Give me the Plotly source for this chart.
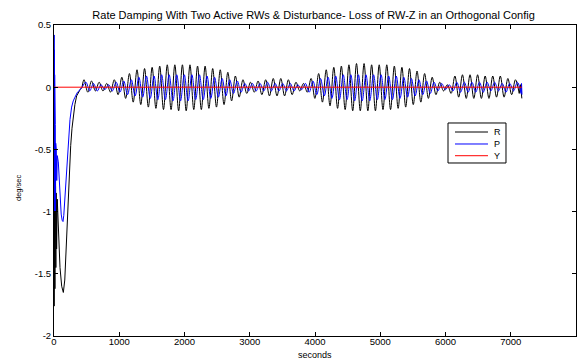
import numpy as np
import plotly.graph_objects as go

# ---- spin-up transient (s, deg/sec) ----
r_t0 = [0, 2, 5, 8, 11, 14, 17, 20, 24, 28, 33, 40, 50, 66, 92, 118, 143, 165, 184,
        202, 220, 238, 256, 276, 297, 320, 347, 375, 400, 430]
r_v0 = [0.0, -1.76, -0.62, -1.72, -0.70, -1.62, -0.75, -1.55, -0.80, -1.45, -0.85, -1.30,
        -0.90, -1.10, -1.45, -1.60, -1.65, -1.55, -1.33, -1.08, -0.80, -0.62, -0.47, -0.33,
        -0.23, -0.14, -0.07, -0.04, -0.02, 0.0]

p_t0 = [0, 2, 4, 6, 8, 10, 12, 14, 17, 20, 23, 26, 30, 35, 42, 50, 66, 80, 92, 110, 125,
        138, 150, 170, 194, 220, 245, 270, 295, 322, 360, 400, 430]
p_v0 = [0.0, 0.42, -0.90, 0.30, -1.00, 0.10, -0.95, -0.10, -0.90, -0.30, -1.00, -0.45,
        -0.85, -0.50, -0.75, -0.55, -0.60, -0.78, -0.92, -1.02, -1.07, -1.08, -1.03, -0.88,
        -0.66, -0.45, -0.26, -0.16, -0.11, -0.08, -0.04, -0.02, 0.0]

# ---- disturbance oscillation: successive peaks / troughs, one every half period ----
half_period = 58
osc_start = 460
r_ext = [0.06, -0.04, 0.05, -0.03, 0.04, -0.03, 0.03, -0.04, 0.06, -0.06,
         0.08, -0.09, 0.11, -0.12, 0.14, -0.14, 0.15, -0.16, 0.16, -0.17,
         0.17, -0.18, 0.18, -0.18, 0.18, -0.19, 0.18, -0.19, 0.18, -0.18,
         0.17, -0.18, 0.17, -0.17, 0.15, -0.16, 0.14, -0.14, 0.12, -0.11,
         0.09, -0.08, 0.06, -0.05, 0.04, -0.04, 0.05, -0.06, 0.06, -0.07,
         0.07, -0.07, 0.07, -0.07, 0.06, -0.06, 0.04, -0.03, 0.03, -0.04,
         0.07, -0.09, 0.11, -0.12, 0.14, -0.15, 0.16, -0.17, 0.17, -0.18,
         0.18, -0.19, 0.19, -0.19, 0.19, -0.19, 0.18, -0.19, 0.18, -0.18,
         0.18, -0.18, 0.17, -0.17, 0.16, -0.16, 0.15, -0.14, 0.13, -0.12,
         0.11, -0.09, 0.08, -0.06, 0.04, -0.03, 0.02, -0.05, 0.09, -0.08,
         0.10, -0.09, 0.10, -0.09, 0.10, -0.09, 0.09, -0.09, 0.09, -0.08,
         0.09, -0.08, 0.07, -0.06, 0.06, -0.05]
r_tail_t = [7150, 7170]
r_tail_v = [0.02, -0.09]

p_ext = [0.04, -0.03, 0.03, -0.03, 0.02, -0.02, 0.02, -0.03, 0.04, -0.04,
         0.05, -0.06, 0.06, -0.07, 0.08, -0.08, 0.09, -0.09, 0.09, -0.10,
         0.10, -0.10, 0.10, -0.11, 0.10, -0.11, 0.10, -0.11, 0.10, -0.10,
         0.10, -0.10, 0.09, -0.09, 0.08, -0.08, 0.07, -0.07, 0.06, -0.05,
         0.05, -0.04, 0.03, -0.03, 0.03, -0.03, 0.03, -0.03, 0.04, -0.03,
         0.03, -0.03, 0.03, -0.03, 0.03, -0.03, 0.02, -0.02, 0.03, -0.04,
         0.05, -0.06, 0.07, -0.07, 0.08, -0.09, 0.09, -0.10, 0.10, -0.10,
         0.10, -0.11, 0.10, -0.11, 0.10, -0.11, 0.10, -0.10, 0.10, -0.10,
         0.09, -0.10, 0.09, -0.09, 0.08, -0.08, 0.07, -0.07, 0.06, -0.06,
         0.05, -0.05, 0.04, -0.03, 0.03, -0.02, 0.02, -0.03, 0.04, -0.04,
         0.04, -0.04, 0.04, -0.04, 0.04, -0.04, 0.04, -0.03, 0.04, -0.03,
         0.03, -0.04, 0.03, -0.03, 0.04, -0.05]
p_tail_t = [7165, 7172]
p_tail_v = [0.03, -0.06]

y_t = [0, 1000, 2000, 3000, 4000, 5000, 6000, 7000, 7170]
y_v = [0.0, 0.0, 0.0, 0.0, 0.0, 0.0, 0.0, 0.0, 0.0]

x_ticks = [0, 1000, 2000, 3000, 4000, 5000, 6000, 7000, 8000]
y_ticks = [-2, -1.5, -1, -0.5, 0, 0.5]
y_tick_text = ["-2", "-1.5", "-1", "-0.5", "0", "0.5"]

series_names = ["R", "P", "Y"]
series_colors = ["#000000", "#0000ff", "#ff0000"]

r_t = list(osc_start + half_period * np.arange(len(r_ext)))
p_t = list(osc_start + half_period // 2 + half_period * np.arange(len(p_ext)))

fig = go.Figure()

def add_series(t0, v0, t1, v1, color):
    # fast transient drawn straight, slow oscillation drawn smooth
    fig.add_trace(go.Scatter(x=t0, y=v0, mode="lines", showlegend=False,
                             line=dict(color=color, width=1)))
    fig.add_trace(go.Scatter(x=t0[-1:] + t1, y=v0[-1:] + v1, mode="lines",
                             showlegend=False,
                             line=dict(color=color, width=1, shape="spline",
                                       smoothing=1.0)))

add_series(r_t0, r_v0, r_t, r_ext, series_colors[0])
fig.add_trace(go.Scatter(x=[r_t[-1]] + r_tail_t, y=[r_ext[-1]] + r_tail_v, mode="lines",
                         showlegend=False, line=dict(color=series_colors[0], width=1)))
add_series(p_t0, p_v0, p_t, p_ext, series_colors[1])
fig.add_trace(go.Scatter(x=[p_t[-1]] + p_tail_t, y=[p_ext[-1]] + p_tail_v, mode="lines",
                         showlegend=False, line=dict(color=series_colors[1], width=1)))
fig.add_trace(go.Scatter(x=y_t, y=y_v, mode="lines", showlegend=False,
                         line=dict(color=series_colors[2], width=1)))

font_family = "Liberation Sans, Arial, sans-serif"

# legend box
lx0, lx1, ly0, ly1 = 0.7548, 0.8659, 0.5563, 0.6849
shapes = [dict(type="rect", xref="paper", yref="paper", x0=lx0, x1=lx1, y0=ly0, y1=ly1,
               line=dict(color="black", width=1), fillcolor="white", layer="above")]
annotations = []
row_y = [0.6559, 0.6174, 0.5797]
for name, color, ry in zip(series_names, series_colors, row_y):
    shapes.append(dict(type="line", xref="paper", yref="paper", x0=0.7682, x1=0.8314,
                       y0=ry, y1=ry, line=dict(color=color, width=1), layer="above"))
    annotations.append(dict(text=name, xref="paper", yref="paper", x=0.840, y=ry,
                            xanchor="left", yanchor="middle", showarrow=False,
                            font=dict(size=9, color="black", family=font_family)))

annotations.append(dict(text="seconds", xref="paper", yref="paper", x=0.5, y=-0.062,
                        xanchor="center", yanchor="middle", showarrow=False,
                        font=dict(size=9, color="black", family=font_family)))
annotations.append(dict(text="deg/sec", xref="paper", yref="paper", x=-0.067, y=0.476,
                        xanchor="center", yanchor="middle", showarrow=False, textangle=-90,
                        font=dict(size=7.5, color="black", family=font_family)))

axis_common = dict(showgrid=False, zeroline=False, showline=True, linecolor="black",
                   linewidth=1, mirror="ticks", ticks="inside", ticklen=4,
                   tickcolor="black", tickfont=dict(size=9.5, color="black",
                                                    family=font_family))

fig.update_layout(
    width=585, height=360,
    margin=dict(l=54, r=9, t=25, b=24),
    paper_bgcolor="white", plot_bgcolor="white",
    title=dict(text="Rate Damping With Two Active RWs & Disturbance- Loss of RW-Z in an Orthogonal Config",
               x=0.536, xanchor="center", y=0.957, yanchor="middle",
               font=dict(size=11, color="black", family=font_family)),
    xaxis=dict(range=[0, 8000], tickvals=x_ticks, ticktext=[str(v) for v in x_ticks],
               ticklabelstandoff=-3, **axis_common),
    yaxis=dict(range=[-2, 0.5], tickvals=y_ticks, ticktext=y_tick_text, **axis_common),
    shapes=shapes, annotations=annotations, showlegend=False,
)

fig.write_html("out.html")
